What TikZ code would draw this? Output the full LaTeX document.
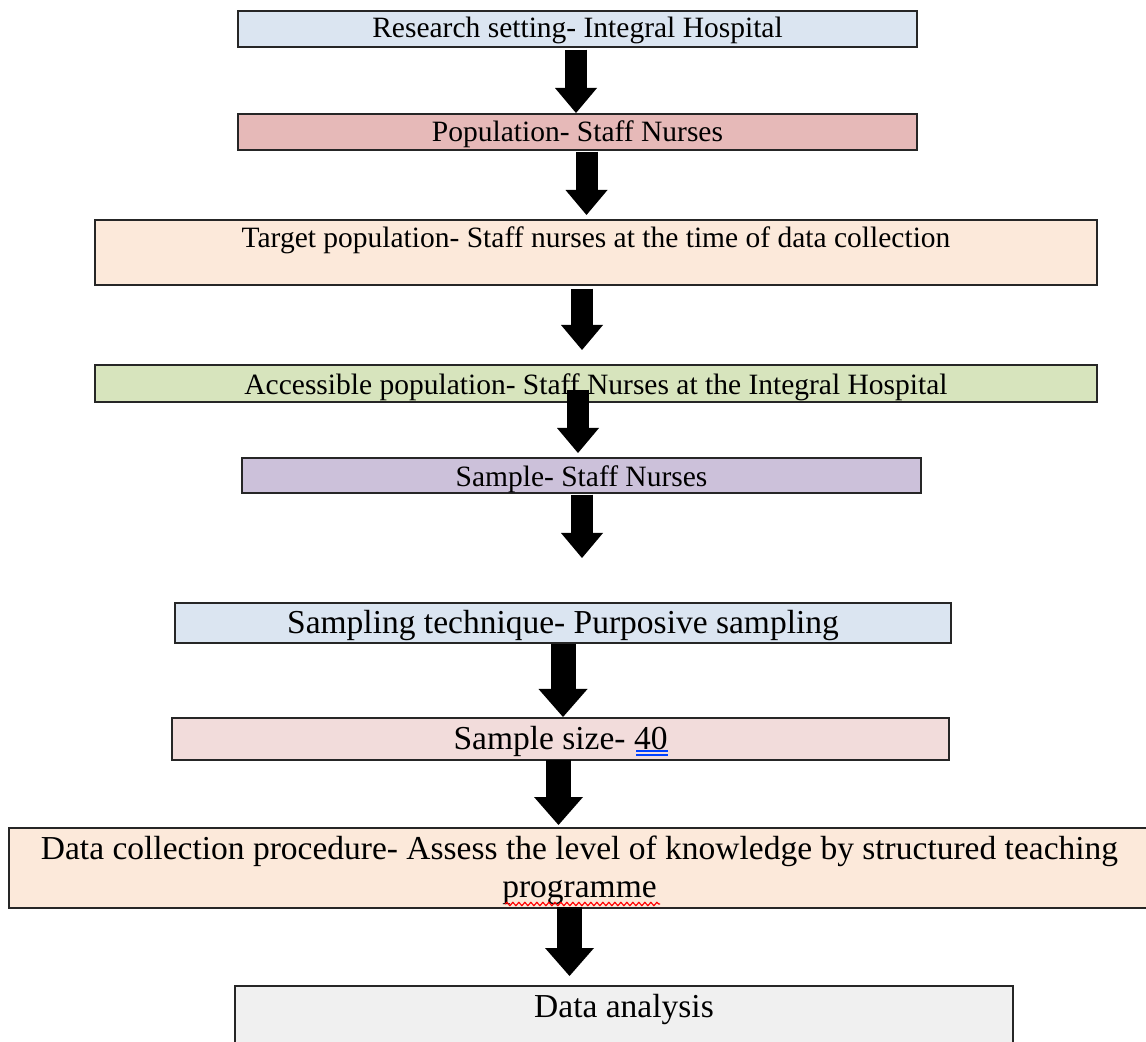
\documentclass[tikz,border=0pt]{standalone}
\usepackage{fontspec}
\setmainfont{Liberation Serif}
\usepackage{xcolor}
\usepackage{tikz}
\usetikzlibrary{positioning,arrows.meta,calc,decorations.pathmorphing}
\definecolor{setting}{HTML}{DBE5F1}
\definecolor{popul}{HTML}{E6B9B8}
\definecolor{peach}{HTML}{FCE9DA}
\definecolor{olive}{HTML}{D7E4BD}
\definecolor{lilac}{HTML}{CCC1DA}
\definecolor{rose}{HTML}{F2DCDB}
\definecolor{pale}{HTML}{F0F0F0}
\tikzset{
  stage/.style   = {rectangle, draw=black!85, line width=0.8pt, inner xsep=0pt,
                    inner ysep=0pt, align=center, anchor=north,
                    font=\fontsize{14.75pt}{17pt}\selectfont},
  stagelg/.style = {stage, font=\fontsize{16.75pt}{19pt}\selectfont},
  flow/.style    = {line width=11pt, -{Triangle[length=12.5pt, width=21pt, line width=0pt]}},
  flowlg/.style  = {line width=12.5pt, -{Triangle[length=14pt, width=24.5pt, line width=0pt]}},
  spell/.style   = {draw=red, line width=0.6pt, decorate,
                    decoration={snake, amplitude=0.8pt, segment length=3pt}},
  grammar/.style = {draw=blue!75!cyan, line width=0.6pt},
}

\begin{document}
\begin{tikzpicture}[x=0.5pt, y=-0.5pt]
  \useasboundingbox[fill=white] (0,0) rectangle (1146,1042);

  \node[stage, fill=setting, minimum width=339.5pt, text height=13.5pt, text depth=4.5pt]
    (setting) at (577.5,10) {Research setting- Integral Hospital};
  \node[stage, fill=popul, minimum width=339.5pt, text height=14pt, text depth=4pt]
    (popul) at (577.5,113) {Population- Staff Nurses};
  \node[stage, fill=peach, minimum width=501pt, text height=14pt, text depth=18.5pt]
    (target) at (596,219) {Target population- Staff nurses at the time of data collection};
  \node[stage, fill=olive, minimum width=501pt, text height=15pt, text depth=3.5pt]
    (access) at (596,364) {Accessible population- Staff Nurses at the Integral Hospital};
  \node[stage, fill=lilac, minimum width=339.5pt, text height=14.5pt, text depth=3pt]
    (sample) at (581.5,457) {Sample- Staff Nurses};
  \node[stagelg, fill=setting, minimum width=388pt, text height=15.5pt, text depth=4.5pt]
    (technique) at (563,602) {Sampling technique- Purposive sampling};
  \node[stagelg, fill=rose, minimum width=388.5pt, text height=16pt, text depth=5pt]
    (size) at (560.5,717) {Sample size- 40};
  \node[stagelg, fill=peach, minimum width=570.5pt, text height=35pt, text depth=5pt]
    (collect) at (579.5,827) {Data collection procedure- Assess the level of knowledge by structured teaching\\programme};
  \node[stagelg, fill=pale, minimum width=389pt, text height=16pt, text depth=25pt]
    (analysis) at (624,985) {Data analysis};

  % block arrows
  \draw[flow] ($(setting.south)+(-1.5,2)$) -- ($(popul.north)+(-1.5,0)$);
  \draw[flow] ($(popul.south)+(9,1)$) -- ($(target.north)+(-9.5,-4)$);
  \draw[flow] ($(target.south)+(-14,3)$) -- ($(access.north)+(-14,-14)$);
  \draw[flow] ($(access.south)+(-18,-13)$) -- ($(sample.north)+(-3.5,-4)$);
  \draw[flow] ($(sample.south)+(0.5,1)$) -- ($(technique.north)+(19,-44)$);
  \draw[flowlg] (technique.south) -- ($(size.north)+(2.5,0)$);
  \draw[flowlg] ($(size.south)+(-2,-1)$) -- ($(collect.north)+(-21,-2)$);
  \draw[flowlg] ($(collect.south)+(-10,-2)$) -- ($(analysis.north)+(-54.5,-9)$);

  % proofing marks
  \draw[grammar] (636,751) -- (668,751) (636,755) -- (668,755);
  \draw[spell] (505,904) -- (660,904);
\end{tikzpicture}
\end{document}
